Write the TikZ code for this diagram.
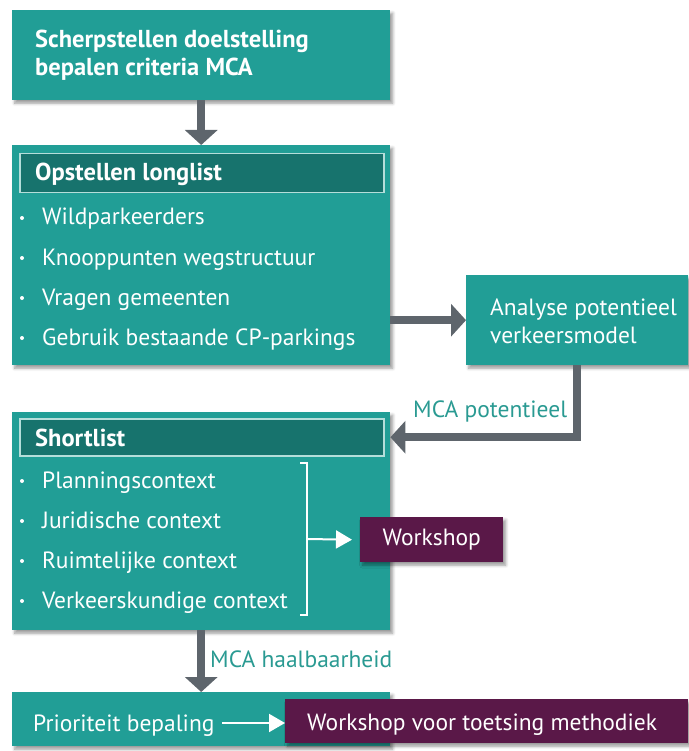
\documentclass[tikz,border=0pt]{standalone}
\usepackage{fontspec}
\setmainfont{PT Sans}
\usetikzlibrary{arrows.meta,shadows.blur}
\definecolor{teal1}{HTML}{219E96}
\definecolor{tealdark}{HTML}{17736D}
\definecolor{teallight}{HTML}{B5DEDA}
\definecolor{arrowgray}{HTML}{5E656C}
\definecolor{plum}{HTML}{5A1848}
\definecolor{labelteal}{HTML}{2A9A92}
\tikzset{
  box/.style={fill=teal1, draw=none, anchor=north west, inner sep=0pt,
    blur shadow={shadow xshift=2.5pt, shadow yshift=-3pt, shadow blur radius=3pt}},
  plumbox/.style={fill=plum, draw=none, anchor=north west, inner sep=0pt,
    blur shadow={shadow xshift=2.5pt, shadow yshift=-3pt, shadow blur radius=3pt}},
  hdr/.style={fill=tealdark, draw=teallight, line width=1.5pt, anchor=north west, inner sep=0pt},
  itemtxt/.style={anchor=base west, inner sep=0pt, text=white, font=\fontsize{23.5}{28}\selectfont},
  titletxt/.style={anchor=base west, inner sep=0pt, text=white, font=\bfseries\fontsize{24.5}{29}\selectfont},
  lbltxt/.style={anchor=base west, inner sep=0pt, text=labelteal, font=\fontsize{23.5}{28}\selectfont},
  grayarrow/.style={draw=arrowgray, line width=8pt, -{Triangle[width=32pt,length=15pt]}},
  whitearrow/.style={draw=white, line width=2pt, -{Triangle[width=18pt,length=16pt]}},
  bulletdot/.style={fill=white},
}
\begin{document}
\begin{tikzpicture}[x=1pt,y=-1pt]
\useasboundingbox (0,0) rectangle (688,751);
% box 1
\node[box, minimum width=378pt, minimum height=90pt] (b1) at (12,10) {};
\node[titletxt] (t1a) at (35,48) {Scherpstellen doelstelling};
\node[titletxt] (t1b) at (35,76) {bepalen criteria MCA};
% box 2
\node[box, minimum width=378pt, minimum height=220pt] (b2) at (12,145) {};
\node[hdr, minimum width=364pt, minimum height=39pt] (h2) at (19,153) {};
\node[titletxt] (t2) at (35,181) {Opstellen longlist};
\foreach \yy/\nm/\tx in {225/l1/Wildparkeerders, 265/l2/Knooppunten wegstructuur, 305/l3/Vragen gemeenten, 345/l4/Gebruik bestaande CP-parkings}{
  \fill[bulletdot] (22,\yy-7) circle (2pt);
  \node[itemtxt] (\nm) at (42,\yy) {\tx};
}
% box 3
\node[box, minimum width=222pt, minimum height=90pt] (b3) at (466,275) {};
\node[itemtxt] (t3a) at (490,315) {Analyse potentieel};
\node[itemtxt] (t3b) at (490,343) {verkeersmodel};
% box 4
\node[box, minimum width=378pt, minimum height=218pt] (b4) at (12,412) {};
\node[hdr, minimum width=364pt, minimum height=37pt] (h4) at (19,418) {};
\node[titletxt] (t4) at (35,446) {Shortlist};
\foreach \yy/\nm/\tx in {488/s1/Planningscontext, 528/s2/Juridische context, 568/s3/Ruimtelijke context, 608/s4/Verkeerskundige context}{
  \fill[bulletdot] (22,\yy-7) circle (2pt);
  \node[itemtxt] (\nm) at (42,\yy) {\tx};
}
\draw[white, line width=1.5pt] (300,463) -- (307,463) -- (307,615) -- (300,615);
\coordinate (brk) at (307,539);
\node[plumbox, minimum width=143pt, minimum height=45pt] (ws) at (360,517) {};
\node[anchor=center, inner sep=0pt, text=white, font=\fontsize{23.5}{28}\selectfont] (wst) at (ws.center) {Workshop};
% box 5
\node[box, minimum width=378pt, minimum height=54pt] (b5) at (12,692) {};
\node[itemtxt] (pb) at (33,731) {Prioriteit bepaling};
\node[plumbox, minimum width=403pt, minimum height=44pt] (ws2) at (285,699) {};
\node[itemtxt] (ws2t) at (307,730) {Workshop voor toetsing methodiek};
% connectors
\draw[grayarrow] (b1.south) -- (b2.north);
\draw[grayarrow] (b3.west -| b2.east) -- (b3.west);
\draw[grayarrow] (b3.south) |- (b4.east |- h4.east);
\node[lbltxt] (lblpot) at (413,417) {MCA potentieel};
\draw[whitearrow] (brk) -- ([xshift=-8pt]ws.west);
\draw[grayarrow] (b4.south) -- (b5.north);
\node[lbltxt] (lblhaal) at (210,667) {MCA haalbaarheid};
\draw[whitearrow] (222,723) -- (ws2.west |- 0,723);
\end{tikzpicture}
\end{document}
